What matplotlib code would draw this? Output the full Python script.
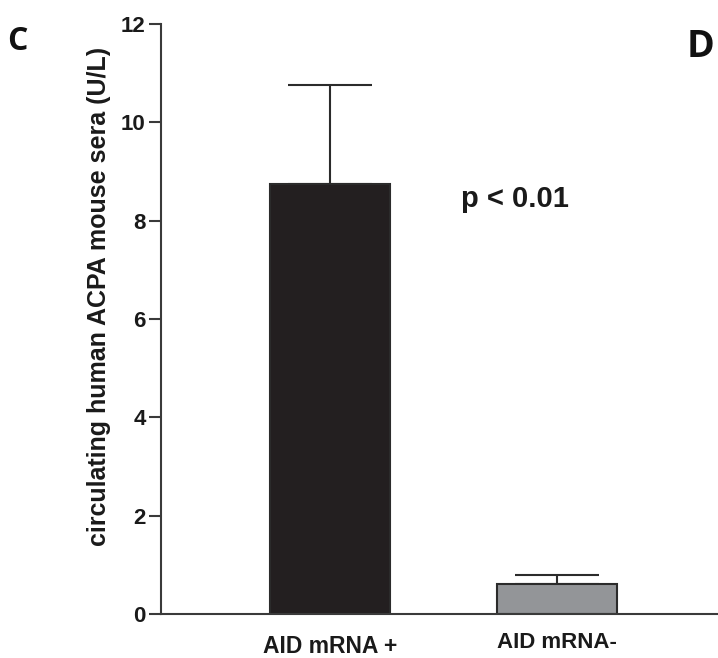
import matplotlib
matplotlib.use("Agg")
import matplotlib.pyplot as plt

categories = ["AID mRNA +", "AID mRNA-"]
values = [8.75, 0.6]
errors = [2.0, 0.2]
colors = ["#231f20", "#939598"]
yticks = [0, 2, 4, 6, 8, 10, 12]

plt.rcParams['font.family'] = ['Liberation Sans', 'DejaVu Sans']

fig = plt.figure(figsize=(7.18, 6.58), dpi=100)
ax = fig.add_axes([0.2242, 0.0669, 0.7758, 0.8966])

x = list(range(len(categories)))
ax.bar(x, values, width=0.53, color=colors, edgecolor="#2b2b2b", linewidth=1.5, zorder=2)
ax.errorbar(x, values, yerr=[[0, 0], errors], fmt="none", ecolor="#2b2b2b",
            elinewidth=1.5, capsize=30, capthick=1.5, zorder=1)

ax.set_xlim(-0.748, 1.712)
ax.set_ylim(0, 12)
ax.set_yticks(yticks)
ax.set_yticklabels([str(t) for t in yticks], fontsize=16, fontweight="bold", color="#1a1a1a")
ax.set_xticks([])
for s in ["top", "right"]:
    ax.spines[s].set_visible(False)
for s in ["left", "bottom"]:
    ax.spines[s].set_linewidth(1.5)
    ax.spines[s].set_color("#3a3a3a")
ax.tick_params(axis="y", length=9, width=1.5, color="#3a3a3a", pad=2)

fig.text(0.138, 0.55, "circulating human ACPA mouse sera (U/L)", rotation=90,
         ha="center", va="center", fontsize=18, fontweight="bold", color="#1a1a1a")

ax.text(0, -0.42, categories[0], ha="center", va="top", fontsize=16.5, fontweight="bold", color="#1a1a1a")
ax.text(1, -0.37, categories[1], ha="center", va="top", fontsize=16, fontweight="bold", color="#1a1a1a")

ax.text(0.815, 8.45, "p < 0.01", ha="center", va="center", fontsize=21, fontweight="bold", color="#1a1a1a")

fig.text(17.5 / 718, 1 - 42 / 658, "C", fontsize=23, fontweight="bold", ha="center", va="center",
         family=["Open Sans", "DejaVu Sans"], color="#111111")
fig.text(701 / 718, 1 - 47 / 658, "D", fontsize=27, fontweight="bold", ha="center", va="center",
         family=["Open Sans", "DejaVu Sans"], color="#111111")

fig.savefig("out.png", dpi=100)
